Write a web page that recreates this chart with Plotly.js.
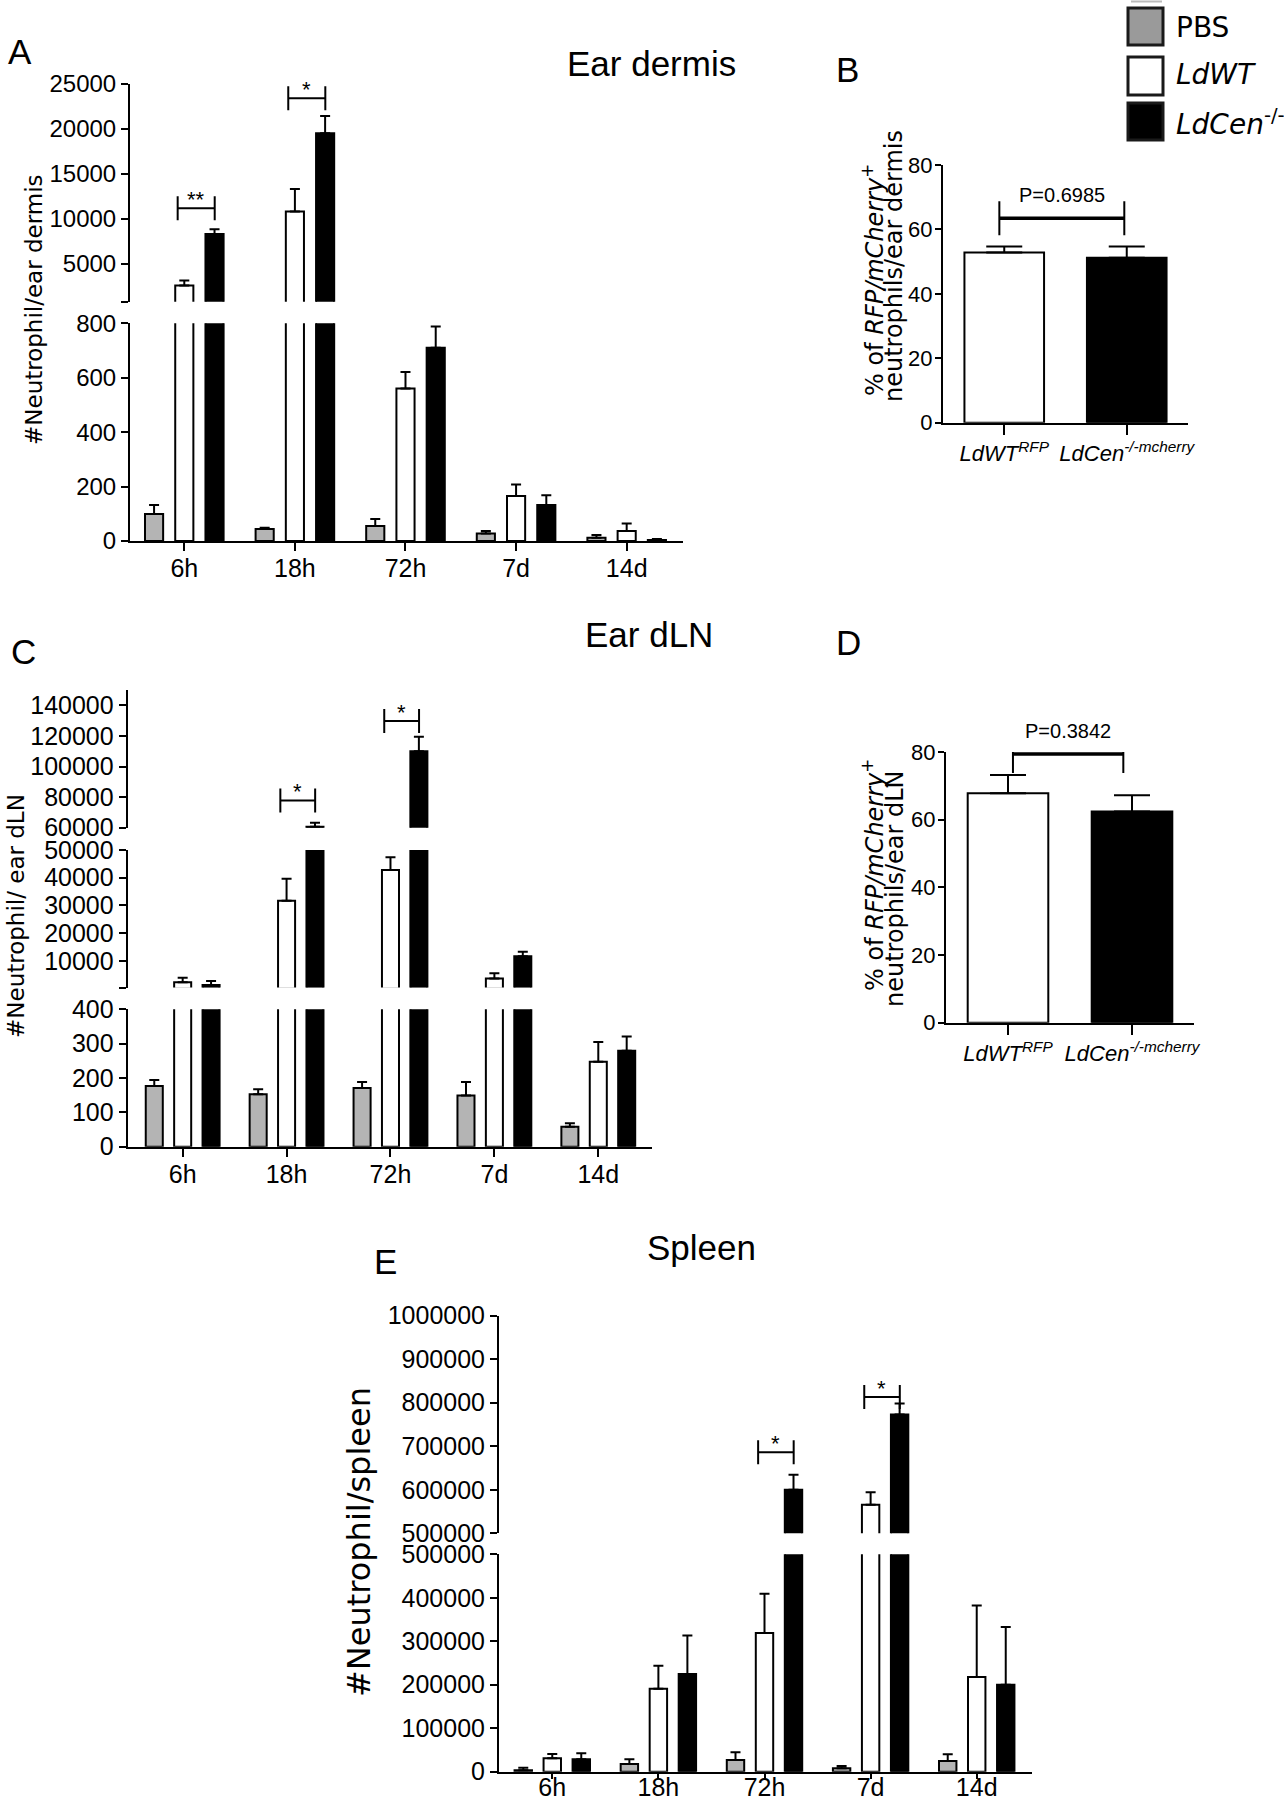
<!DOCTYPE html>
<html>
<head>
<meta charset="utf-8">
<script src="https://cdn.plot.ly/plotly-3.0.1.min.js"></script>
<style>
  body { margin: 0; background: #fff; }
  #fig { width: 1284px; height: 1800px; }
</style>
</head>
<body>
<div id="fig"></div>
<script>
const W = 1284, H = 1800;

const timepoints = ["6h", "18h", "72h", "7d", "14d"];

// A - ear dermis
const dermisPBS = [99, 44, 55, 28, 12];
const dermisPBSErr = [33, 5, 26, 9, 10];
const dermisWT = [2593, 10815, 560, 165, 37];
const dermisWTErr = [555, 2518, 61, 43, 27];
const dermisCen = [8333, 19519, 710, 132, 4];
const dermisCenErr = [519, 1925, 78, 36, 3];
const dermisSigAt = ["6h", "18h"];
const dermisSigY = [11190, 23410];
const dermisSigText = ["**", "*"];

// C - ear dLN
const dlnPBS = [177, 153, 171, 149, 58];
const dlnPBSErr = [17, 14, 17, 39, 10];
const dlnWT = [2300, 31700, 42800, 3660, 247];
const dlnWTErr = [1660, 7950, 4600, 1940, 58];
const dlnCen = [1340, 60600, 109900, 11660, 279];
const dlnCenErr = [1440, 2700, 9500, 1660, 42];
const dlnSigAt = ["18h", "72h"];
const dlnSigY = [77700, 129700];
const dlnSigText = ["*", "*"];

// E - spleen
const spleenPBS = [3100, 17700, 26900, 7700, 24600];
const spleenPBSErr = [6100, 10800, 17700, 5400, 15400];
const spleenWT = [30800, 190800, 319200, 565400, 217700];
const spleenWTErr = [10000, 53000, 90000, 29200, 164600];
const spleenCen = [28500, 224600, 600000, 773000, 200000];
const spleenCenErr = [13800, 88400, 34600, 25500, 133000];
const spleenSigAt = ["72h", "7d"];
const spleenSigY = [686200, 813000];
const spleenSigText = ["*", "*"];

// B and D - percentage of reporter+ neutrophils
const reporterStrains = ["LdWT<sup>RFP</sup>", "LdCen<sup>-/-mcherry</sup>"];
const dermisPct = [52.8, 51.2];
const dermisPctErr = [1.9, 3.5];
const dermisP = "P=0.6985";
const dermisPLevel = 63.5;
const dlnPct = [67.8, 62.4];
const dlnPctErr = [5.4, 4.8];
const dlnP = "P=0.3842";
const dlnPLevel = 79.4;

const TICK = "Liberation Sans, Arial, sans-serif";
const REG = "Liberation Sans, Arial, sans-serif";
const WIDE = "DejaVu Sans, Verdana, sans-serif";
const fillColors = ["#b4b4b4", "#ffffff", "#000000"];

const fx = p => p / W;
const fy = p => 1 - p / H;

// bars whose top lies below a segment's floor are left out of that segment
function groupTraces(xa, ya, floor, vals, errs) {
  return vals.map((v, k) => ({
    type: "bar", x: timepoints, xaxis: xa, yaxis: ya,
    y: v.map(a => a > floor ? a : null),
    marker: { color: fillColors[k], line: { color: "#000", width: 2 } },
    error_y: { type: "data", symmetric: false,
               array: errs[k].map((e, i) => v[i] > floor ? e : null),
               arrayminus: v.map(() => 0),
               color: "#000", thickness: 2, width: 5 },
    hoverinfo: "skip"
  }));
}

function yAxis(anchor, top, bottom, range, tickvals, ticktext, size) {
  const ax = {
    anchor: anchor, domain: [fy(bottom), fy(top)], range: range,
    showline: true, linecolor: "#000", linewidth: 2,
    ticks: "outside", ticklen: 7, tickwidth: 2, tickcolor: "#000",
    showgrid: false, zeroline: false, tickvals: tickvals, tickformat: "d",
    tickfont: { family: TICK, size: size || 25, color: "#000" }
  };
  if (ticktext) ax.ticktext = ticktext;
  return ax;
}

function xAxis(anchor, left, right, range, standoff, size, style) {
  return {
    anchor: anchor, domain: [fx(left), fx(right)], range: range, type: "category",
    showline: true, linecolor: "#000", linewidth: 2, tickangle: 0,
    ticks: "outside", ticklen: 8, tickwidth: 2, tickcolor: "#000",
    showgrid: false, zeroline: false, ticklabelstandoff: standoff,
    tickfont: { family: TICK, size: size || 25, color: "#000", style: style || "normal" }
  };
}

const shapes = [];
const annotations = [];

function bracket(xa, ya, x0, x1, level, half, hWidth) {
  shapes.push({ type: "line", xref: xa, yref: ya, x0: x0, x1: x1, y0: level, y1: level,
                line: { color: "#000", width: hWidth } });
  [x0, x1].forEach(x => shapes.push({
    type: "line", xref: xa, yref: ya, x0: x, x1: x, ysizemode: "pixel", yanchor: level,
    y0: -half, y1: half, line: { color: "#000", width: 2 } }));
}

function stars(xa, ya, at, levels, texts) {
  at.forEach((c, k) => {
    const i = timepoints.indexOf(c);
    bracket(xa, ya, i - 0.06, i + 0.275, levels[k], 12, 2);
    annotations.push({ xref: xa, yref: ya, x: i + 0.107, y: levels[k], text: texts[k],
      showarrow: false, yanchor: "middle", yshift: 9, font: { family: REG, size: 22, color: "#000" } });
  });
}

function label(px, py, text, font, extra) {
  annotations.push(Object.assign({ xref: "paper", yref: "paper", x: fx(px), y: fy(py), text: text,
    showarrow: false, xanchor: "center", yanchor: "middle", font: font }, extra || {}));
}

const traces = [];
const dermisVals = [dermisPBS, dermisWT, dermisCen], dermisErrs = [dermisPBSErr, dermisWTErr, dermisCenErr];
const dlnVals = [dlnPBS, dlnWT, dlnCen], dlnErrs = [dlnPBSErr, dlnWTErr, dlnCenErr];
const spleenVals = [spleenPBS, spleenWT, spleenCen], spleenErrs = [spleenPBSErr, spleenWTErr, spleenCenErr];

traces.push(...groupTraces("x", "y", -Infinity, dermisVals, dermisErrs));
traces.push(...groupTraces("x", "y2", 800, dermisVals, dermisErrs));
traces.push(...groupTraces("x2", "y3", -Infinity, dlnVals, dlnErrs));
traces.push(...groupTraces("x2", "y4", 400, dlnVals, dlnErrs));
traces.push(...groupTraces("x2", "y5", 60000, dlnVals, dlnErrs));
traces.push(...groupTraces("x3", "y6", -Infinity, spleenVals, spleenErrs));
traces.push(...groupTraces("x3", "y7", 500000, spleenVals, spleenErrs));

[["x4", "y8", dermisPct, dermisPctErr], ["x5", "y9", dlnPct, dlnPctErr]].forEach(([xa, ya, v, e]) => {
  traces.push({
    type: "bar", x: reporterStrains, y: v, xaxis: xa, yaxis: ya, width: 0.65,
    marker: { color: ["#ffffff", "#000000"], line: { color: "#000", width: 2 } },
    error_y: { type: "data", symmetric: false, array: e, arrayminus: [0, 0],
               color: "#000", thickness: 2, width: 18 },
    hoverinfo: "skip"
  });
});

stars("x", "y2", dermisSigAt, dermisSigY, dermisSigText);
stars("x2", "y5", dlnSigAt, dlnSigY, dlnSigText);
stars("x3", "y7", spleenSigAt, spleenSigY, spleenSigText);

bracket("x4", "y8", -0.04, 0.98, dermisPLevel, 17, 3.5);
annotations.push({ xref: "x4", yref: "y8", x: 0.47, y: dermisPLevel, text: dermisP, showarrow: false,
  yanchor: "middle", yshift: 23, font: { family: REG, size: 20, color: "#000" } });
bracket("x5", "y9", 0.04, 0.93, dlnPLevel, 19, 3.5);
annotations.push({ xref: "x5", yref: "y9", x: 0.485, y: dlnPLevel, text: dlnP, showarrow: false,
  yanchor: "middle", yshift: 23, font: { family: REG, size: 20, color: "#000" } });

// panel letters and titles
const big = { family: REG, size: 35, color: "#000" };
label(20, 52, "A", big);
label(847, 70, "B", big);
label(24, 651, "C", big);
label(848, 642, "D", big);
label(385, 1261, "E", big);
label(652, 63, "Ear dermis", big);
label(649, 634, "Ear dLN", big);
label(701, 1247, "Spleen", big);

// y axis titles
const ytitle = { family: WIDE, size: 23, color: "#000" };
label(34, 310, "#Neutrophil/ear dermis", ytitle, { textangle: -90 });
label(16, 916, "#Neutrophil/ ear dLN", ytitle, { textangle: -90 });
label(359, 1542, "#Neutrophil/spleen", { family: WIDE, size: 32, color: "#000" }, { textangle: -90 });
const pctFont = { family: WIDE, size: 24, color: "#000" };
label(873, 280, "% of <i>RFP/mCherry</i><sup>+</sup>", pctFont, { textangle: -90 });
label(894, 266, "neutrophils/ear dermis", pctFont, { textangle: -90 });
label(873, 875, "% of <i>RFP/mCherry</i><sup>+</sup>", pctFont, { textangle: -90 });
label(895, 889, "neutrophils/ear dLN", pctFont, { textangle: -90 });

// legend
const legendRows = [
  { top: 8, bottom: 45, fill: "#9a9a9a", text: "PBS", y: 27 },
  { top: 57, bottom: 95, fill: "#ffffff", text: "<i>LdWT</i>", y: 75 },
  { top: 103, bottom: 140, fill: "#000000", text: "<i>LdCen</i><sup>-/-</sup>", y: 122 }
];
shapes.push({ type: "line", xref: "paper", yref: "paper", x0: fx(1131), x1: fx(1162),
  y0: fy(1.5), y1: fy(1.5), line: { color: "#bbbbbb", width: 2 } });
legendRows.forEach(r => {
  shapes.push({ type: "rect", xref: "paper", yref: "paper", x0: fx(1128), x1: fx(1163),
    y0: fy(r.bottom), y1: fy(r.top), fillcolor: r.fill, line: { color: "#1a1a1a", width: 3 } });
  label(1174, r.y, r.text, { family: WIDE, size: 28, color: "#000" }, { xanchor: "left" });
});

const layout = {
  width: W, height: H, margin: { l: 0, r: 0, t: 0, b: 0 },
  paper_bgcolor: "#fff", plot_bgcolor: "rgba(0,0,0,0)",
  showlegend: false, barmode: "group", bargap: 0.18, bargroupgap: 0.4,
  font: { family: TICK, color: "#000" },
  // A
  xaxis: xAxis("y", 130, 683.3, [-0.491, 4.512], -4),
  yaxis: yAxis("x", 323.3, 541, [0, 800], [0, 200, 400, 600, 800], null, 24),
  yaxis2: yAxis("x", 84, 301.7, [800, 25000], [800, 5000, 10000, 15000, 20000, 25000],
                ["", "5000", "10000", "15000", "20000", "25000"], 24),
  // C
  xaxis2: xAxis("y3", 127.7, 651.7, [-0.529, 4.514], -4),
  yaxis3: yAxis("x2", 1009.3, 1146.7, [0, 400], [0, 100, 200, 300, 400]),
  yaxis4: yAxis("x2", 850, 987.6, [400, 50000], [400, 10000, 20000, 30000, 40000, 50000],
                ["", "10000", "20000", "30000", "40000", "50000"]),
  yaxis5: yAxis("x2", 690, 827.7, [60000, 150000], [60000, 80000, 100000, 120000, 140000]),
  // E
  xaxis3: Object.assign(xAxis("y6", 499, 1031.7, [-0.502, 4.518], -13), { ticklen: 5 }),
  yaxis6: yAxis("x3", 1554.3, 1771.7, [0, 500000], [0, 100000, 200000, 300000, 400000, 500000]),
  yaxis7: yAxis("x3", 1315.7, 1533.3, [500000, 1000000], [500000, 600000, 700000, 800000, 900000, 1000000]),
  // B
  xaxis4: Object.assign(xAxis("y8", 943, 1188, [-0.5, 1.5], 0, 22, "italic"), { ticklen: 10 }),
  yaxis8: Object.assign(yAxis("x4", 165, 422.7, [0, 80], [0, 20, 40, 60, 80], null, 22),
                        { ticklen: 6, ticklabelstandoff: -2 }),
  // D
  xaxis5: Object.assign(xAxis("y9", 946, 1194, [-0.5, 1.5], 0, 22, "italic"), { ticklen: 10 }),
  yaxis9: Object.assign(yAxis("x5", 752, 1022.7, [0, 80], [0, 20, 40, 60, 80], null, 22),
                        { ticklen: 6, ticklabelstandoff: -2 }),
  shapes: shapes,
  annotations: annotations
};

Plotly.newPlot("fig", traces, layout, { displayModeBar: false, staticPlot: true });
</script>
</body>
</html>
